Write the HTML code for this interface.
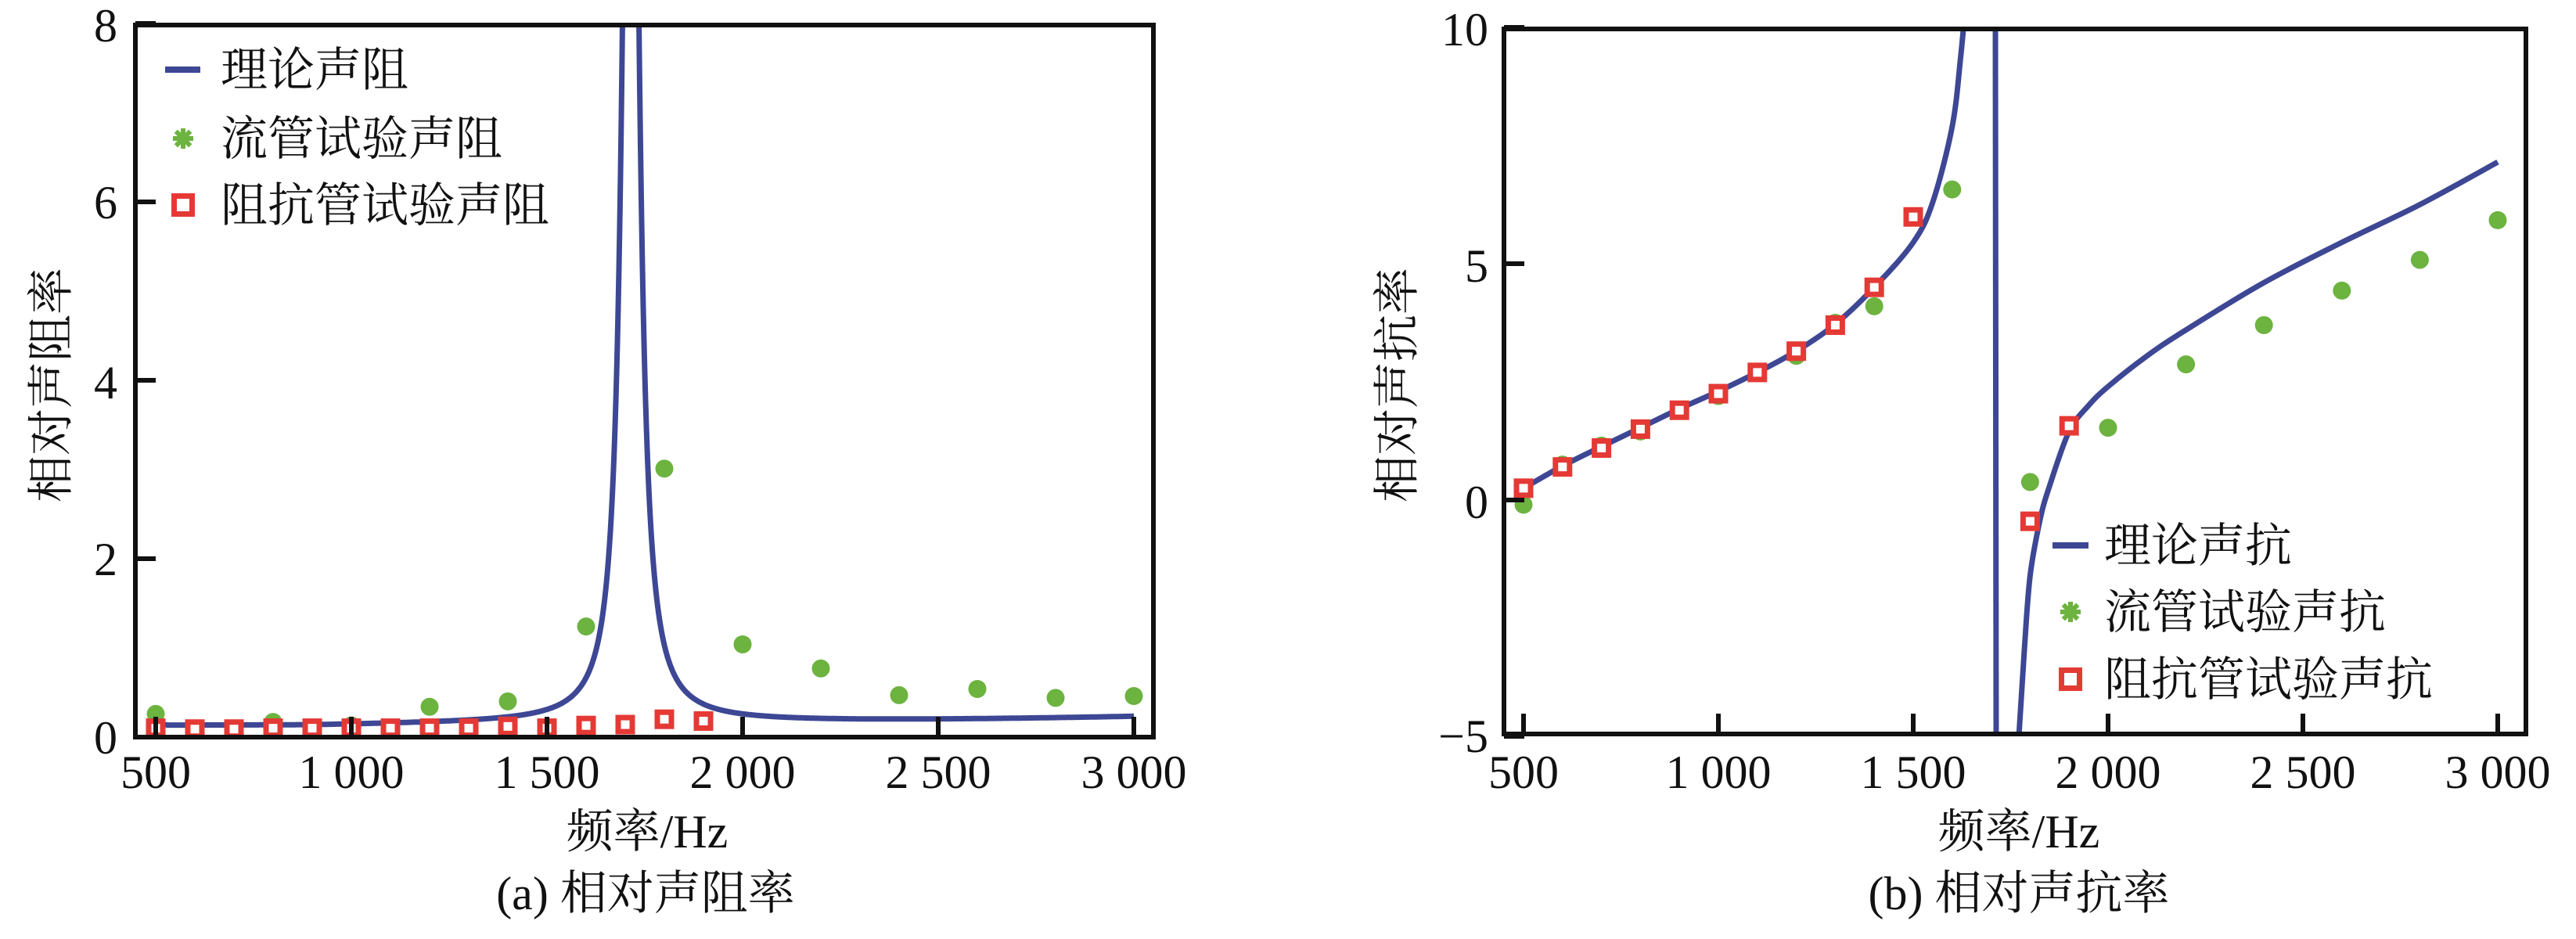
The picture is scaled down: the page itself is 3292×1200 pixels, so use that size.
<!DOCTYPE html>
<html><head><meta charset="utf-8"><style>
html,body{margin:0;padding:0;background:#fff;}
svg{display:block;}
text{font-family:"Liberation Serif","Noto Serif CJK SC","Noto Sans CJK SC",serif;fill:#111;}
</style></head><body>
<svg id="s" width="3292" height="1200" viewBox="0 0 3292 1200" xmlns="http://www.w3.org/2000/svg" font-family="'Liberation Serif','Noto Serif CJK SC','Noto Sans CJK SC',serif">
<defs>
<clipPath id="c1"><rect x="173" y="32" width="1301" height="910"/></clipPath>
<clipPath id="c2"><rect x="1922" y="37" width="1306" height="901"/></clipPath>
</defs>
<g id="g1"></g>
<g id="g2"></g>
<rect x="173" y="32" width="1301" height="910" fill="none" stroke="#111" stroke-width="6"/>
<rect x="1922" y="37" width="1306" height="901" fill="none" stroke="#111" stroke-width="6"/>
<g id="ticks" stroke="#111" stroke-width="6"></g>
<g font-size="60" font-family="'Liberation Serif','Noto Serif CJK SC','Noto Sans CJK SC',serif">
<text x="150" y="53" text-anchor="end">8</text>
<text x="150" y="279" text-anchor="end">6</text>
<text x="150" y="509" text-anchor="end">4</text>
<text x="150" y="735" text-anchor="end">2</text>
<text x="150" y="963" text-anchor="end">0</text>
<g text-anchor="middle">
<text x="199" y="1007">500</text><text x="449" y="1007">1 000</text><text x="699" y="1007">1 500</text>
<text x="949" y="1007">2 000</text><text x="1199" y="1007">2 500</text><text x="1449" y="1007">3 000</text>
<text x="827" y="1083">频率/Hz</text>
<text x="825" y="1162">(a) 相对声阻率</text>
</g>
<text transform="translate(86,492) rotate(-90)" text-anchor="middle">相对声阻率</text>
<text x="1902" y="58" text-anchor="end">10</text>
<text x="1902" y="360" text-anchor="end">5</text>
<text x="1902" y="662" text-anchor="end">0</text>
<text x="1902" y="961" text-anchor="end">−5</text>
<g text-anchor="middle">
<text x="1947" y="1007">500</text><text x="2196" y="1007">1 000</text><text x="2445" y="1007">1 500</text>
<text x="2694" y="1007">2 000</text><text x="2943" y="1007">2 500</text><text x="3192" y="1007">3 000</text>
<text x="2580" y="1083">频率/Hz</text>
<text x="2580" y="1162">(b) 相对声抗率</text>
</g>
<text transform="translate(1806,492) rotate(-90)" text-anchor="middle">相对声抗率</text>
<text x="282" y="110">理论声阻</text>
<text x="282" y="198">流管试验声阻</text>
<text x="282" y="283">阻抗管试验声阻</text>
<text x="2689" y="718">理论声抗</text>
<text x="2689" y="803">流管试验声抗</text>
<text x="2689" y="889">阻抗管试验声抗</text>
</g>
<g id="leg"></g>
</svg>
<script>
var NS="http://www.w3.org/2000/svg";
function el(p,t,a){var e=document.createElementNS(NS,t);for(var k in a)e.setAttribute(k,a[k]);p.appendChild(e);return e;}
var BLUE="#3d4794",GREEN="#6cb33f",RED="#e53935";
function X1(f){return 199+(f-500)*0.5;}
function Y1(v){return 942-v*114;}
function X2(f){return 1947+(f-500)*0.498;}
function Y2(v){return 639-v*60.4;}
function cr(pts){var d="M"+pts[0][0].toFixed(1)+","+pts[0][1].toFixed(1);
 for(var i=0;i<pts.length-1;i++){var p0=pts[Math.max(0,i-1)],p1=pts[i],p2=pts[i+1],p3=pts[Math.min(pts.length-1,i+2)];
 var c1x=p1[0]+(p2[0]-p0[0])/6,c1y=p1[1]+(p2[1]-p0[1])/6,c2x=p2[0]-(p3[0]-p1[0])/6,c2y=p2[1]-(p3[1]-p1[1])/6;
 d+="C"+c1x.toFixed(1)+","+c1y.toFixed(1)+" "+c2x.toFixed(1)+","+c2y.toFixed(1)+" "+p2[0].toFixed(1)+","+p2[1].toFixed(1);}
 return d;}
var g1=document.getElementById("g1"),g2=document.getElementById("g2");
var c1=el(g1,"g",{"clip-path":"url(#c1)"}),c2=el(g2,"g",{"clip-path":"url(#c2)"});
var pts=[];
for(var f=500;f<=3000;f+=2){
 var base;
 if(f<1712) base=0.13+0.05*Math.max(0,(f-900)/800);
 else base=0.17+0.02*Math.exp(-(f-1712)/300)+0.06*Math.pow((f-1712)/1288,2);
 if(f<530)base+=0.03*(530-f)/30;
 var x=(f-1714)/20;var v=base+16.5/(1+x*x);
 if(v>9)v=9;pts.push([X1(f),Y1(v)]);}
var d="M"+pts.map(function(p){return p[0].toFixed(1)+","+p[1].toFixed(1)}).join("L");
function dot(p,x,y,r){el(p,"circle",{cx:x,cy:y,r:r||11.5,fill:GREEN});}
function sq(p,x,y,s){s=s||25;var w=7;el(p,"rect",{x:x-s/2+w/2,y:y-s/2+w/2,width:s-w,height:s-w,fill:"#fff",stroke:RED,"stroke-width":w});}
var gl=[[500,0.26],[800,0.17],[1000,0.13],[1200,0.34],[1400,0.40],[1600,1.24],[1800,3.01],[2000,1.04],[2200,0.77],[2400,0.47],[2600,0.54],[2800,0.44],[3000,0.46]];
gl.forEach(function(a){dot(c1,X1(a[0]),Y1(a[1]));});
el(c1,"path",{d:d,fill:"none",stroke:BLUE,"stroke-width":7,"stroke-linejoin":"round"});
var rl=[[500,0.1],[600,0.09],[700,0.09],[800,0.1],[900,0.1],[1000,0.1],[1100,0.1],[1200,0.1],[1300,0.1],[1400,0.12],[1500,0.1],[1600,0.13],[1700,0.14],[1800,0.2],[1900,0.18]];
rl.forEach(function(a){sq(c1,X1(a[0]),Y1(a[1]));});
var gr=[[500,-0.1],[600,0.75],[700,1.15],[800,1.45],[900,1.9],[1000,2.2],[1100,2.7],[1200,3.05],[1300,3.75],[1400,4.1],[1600,6.57],[1800,0.38],[2000,1.53],[2200,2.87],[2400,3.7],[2600,4.43],[2800,5.08],[3000,5.92]];
gr.forEach(function(a){dot(c2,X2(a[0]),Y2(a[1]));});
var L=[[500,0.25],[600,0.72],[700,1.13],[800,1.53],[900,1.93],[1000,2.3],[1100,2.7],[1200,3.15],[1300,3.72],[1400,4.5],[1500,5.45],[1550,6.3],[1600,7.9],[1622,9.4],[1640,11]];
var R=[[1758,-7],[1771,-5],[1785,-3.2],[1800,-1.6],[1826,-0.4],[1850,0.3],[1900,1.45],[1950,2.0],[2000,2.4],[2100,3.05],[2200,3.6],[2400,4.6],[2600,5.45],[2800,6.25],[3000,7.15]];
function mp(a){return a.map(function(p){return [X2(p[0]),Y2(p[1])];});}
el(c2,"path",{d:cr(mp(L)),fill:"none",stroke:BLUE,"stroke-width":7});
el(c2,"path",{d:cr(mp(R)),fill:"none",stroke:BLUE,"stroke-width":7});
el(c2,"line",{x1:2550,y1:20,x2:2551,y2:960,stroke:BLUE,"stroke-width":7});
var rr=[[500,0.25],[600,0.7],[700,1.1],[800,1.5],[900,1.9],[1000,2.25],[1100,2.7],[1200,3.15],[1300,3.7],[1400,4.5],[1500,5.99],[1800,-0.45],[1900,1.57]];
rr.forEach(function(a){sq(c2,X2(a[0]),Y2(a[1]));});
var tk=document.getElementById("ticks");
for(var f=500;f<=3000;f+=500){el(tk,"line",{x1:X1(f),y1:942,x2:X1(f),y2:916});el(tk,"line",{x1:X2(f),y1:938,x2:X2(f),y2:912});}
for(var v=0;v<=8;v+=2){el(tk,"line",{x1:173,y1:Y1(v),x2:199,y2:Y1(v)});}
[-5,0,5,10].forEach(function(v){el(tk,"line",{x1:1922,y1:Y2(v),x2:1948,y2:Y2(v)});});
var lg=document.getElementById("leg");
function legset(lx1,lx2,y0,y1,y2,cx){
 el(lg,"line",{x1:lx1,y1:y0,x2:lx2,y2:y0,stroke:BLUE,"stroke-width":8});
 var t=el(lg,"g",{});
 for(var i=0;i<8;i++){var a=i*Math.PI/4;el(t,"line",{x1:cx,y1:y1,x2:cx+13*Math.cos(a),y2:y1+13*Math.sin(a),stroke:GREEN,"stroke-width":6});}
 el(t,"circle",{cx:cx,cy:y1,r:7,fill:GREEN});
 sq(lg,cx,y2,30);
}
legset(211,256,89,177,262,234);
legset(2623,2669,697,782,868,2646);
</script>
</body></html>
